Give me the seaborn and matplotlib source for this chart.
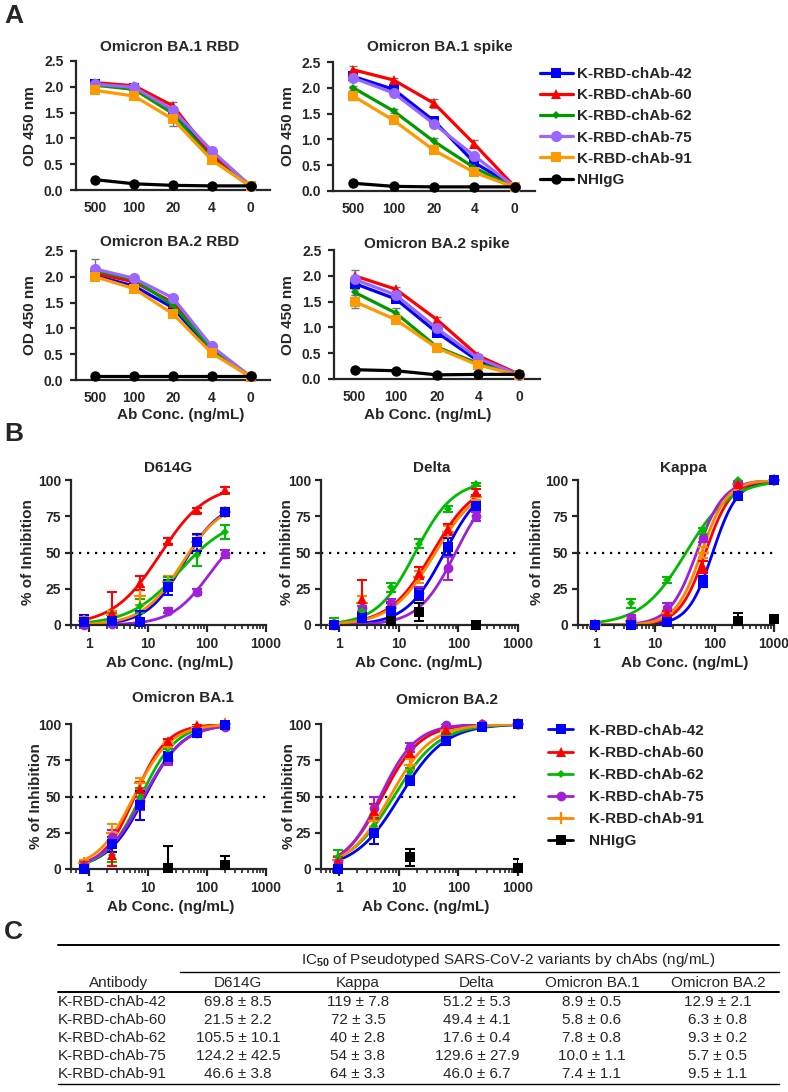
import numpy as np
import pandas as pd
import matplotlib
matplotlib.use('Agg')
import matplotlib.pyplot as plt
from matplotlib.lines import Line2D
from matplotlib.ticker import NullFormatter
import seaborn as sns

sns.set_style('ticks')
plt.rcParams['font.family'] = ['Liberation Sans', 'DejaVu Sans']
plt.rcParams['font.weight'] = 'bold'
plt.rcParams['mathtext.fontset'] = 'custom'
plt.rcParams['mathtext.rm'] = 'Liberation Sans'
plt.rcParams['mathtext.it'] = 'Liberation Sans:italic'
plt.rcParams['mathtext.bf'] = 'Liberation Sans:bold'

W, H = 788, 1092

# ---------------- data ----------------
ab_ids = ['42', '60', '62', '75', '91']
ab_names = ['K-RBD-chAb-' + i for i in ab_ids]
ctrl_name = 'NHIgG'

# A: ELISA (OD 450 nm), Ab conc. in ng/mL
elisa_conc = ['500', '100', '20', '4', '0']

od_ba1_rbd = {
    '42': [2.05, 1.97, 1.52, 0.65, 0.08],
    '60': [2.08, 2.02, 1.63, 0.68, 0.08],
    '62': [2.03, 1.95, 1.48, 0.60, 0.07],
    '75': [2.05, 1.99, 1.55, 0.76, 0.08],
    '91': [1.93, 1.82, 1.37, 0.58, 0.07],
    'NH': [0.20, 0.12, 0.09, 0.08, 0.08],
}
err_ba1_rbd = {
    '42': [0.03, 0.02, 0.03, 0.02, 0.01],
    '60': [0.04, 0.03, 0.07, 0.03, 0.01],
    '62': [0.02, 0.02, 0.03, 0.02, 0.01],
    '75': [0.02, 0.02, 0.03, 0.02, 0.01],
    '91': [0.03, 0.03, 0.12, 0.03, 0.01],
    'NH': [0.01, 0.01, 0.01, 0.01, 0.01],
}
od_ba1_spike = {
    '42': [2.22, 1.97, 1.36, 0.55, 0.08],
    '60': [2.35, 2.15, 1.70, 0.91, 0.08],
    '62': [2.00, 1.55, 0.96, 0.45, 0.07],
    '75': [2.19, 1.90, 1.30, 0.68, 0.08],
    '91': [1.84, 1.37, 0.79, 0.36, 0.07],
    'NH': [0.15, 0.09, 0.08, 0.08, 0.08],
}
err_ba1_spike = {
    '42': [0.05, 0.04, 0.05, 0.04, 0.01],
    '60': [0.07, 0.04, 0.09, 0.08, 0.01],
    '62': [0.04, 0.04, 0.06, 0.03, 0.01],
    '75': [0.05, 0.04, 0.04, 0.04, 0.01],
    '91': [0.08, 0.05, 0.04, 0.03, 0.01],
    'NH': [0.01, 0.01, 0.01, 0.01, 0.01],
}
od_ba2_rbd = {
    '42': [2.02, 1.82, 1.40, 0.55, 0.06],
    '60': [2.07, 1.90, 1.50, 0.60, 0.06],
    '62': [2.12, 1.95, 1.45, 0.60, 0.06],
    '75': [2.15, 1.97, 1.59, 0.65, 0.07],
    '91': [2.00, 1.77, 1.28, 0.52, 0.06],
    'NH': [0.07, 0.07, 0.07, 0.07, 0.07],
}
err_ba2_rbd = {
    '42': [0.04, 0.03, 0.03, 0.02, 0.01],
    '60': [0.04, 0.03, 0.03, 0.02, 0.01],
    '62': [0.04, 0.03, 0.03, 0.02, 0.01],
    '75': [0.20, 0.06, 0.04, 0.02, 0.01],
    '91': [0.05, 0.03, 0.04, 0.02, 0.01],
    'NH': [0.01, 0.01, 0.01, 0.01, 0.01],
}
od_ba2_spike = {
    '42': [1.85, 1.55, 0.90, 0.35, 0.08],
    '60': [2.00, 1.74, 1.15, 0.45, 0.09],
    '62': [1.68, 1.28, 0.62, 0.30, 0.07],
    '75': [1.93, 1.63, 0.98, 0.40, 0.08],
    '91': [1.50, 1.15, 0.60, 0.27, 0.07],
    'NH': [0.18, 0.16, 0.08, 0.09, 0.09],
}
err_ba2_spike = {
    '42': [0.05, 0.04, 0.04, 0.03, 0.01],
    '60': [0.12, 0.04, 0.06, 0.03, 0.01],
    '62': [0.06, 0.10, 0.03, 0.03, 0.01],
    '75': [0.06, 0.04, 0.04, 0.03, 0.01],
    '91': [0.12, 0.05, 0.03, 0.03, 0.01],
    'NH': [0.01, 0.01, 0.01, 0.01, 0.01],
}

# B: pseudovirus neutralization (% of inhibition)
conc_3fold = [0.82, 2.47, 7.41, 22.2, 66.7, 200]
conc_4fold = [0.98, 3.91, 15.6, 62.5, 250, 1000]

inh_d614g = {'42': [2, 3, 2, 26, 57, 78], '60': [3, 8, 29, 58, 79, 93],
             '62': [2, 5, 13, 30, 48, 64], '75': [0, 1, 3, 10, 23, 49],
             '91': [3, 7, 20, 30, 57, 78]}
sd_d614g = {'42': [5, 2, 8, 5, 6, 3], '60': [2, 15, 5, 2, 2, 2],
            '62': [2, 3, 5, 3, 7, 5], '75': [1, 1, 1, 2, 2, 3],
            '91': [3, 3, 6, 4, 5, 3]}
inh_delta = {'42': [0, 5, 10, 21, 54, 82], '60': [1, 18, 12, 36, 66, 92],
             '62': [2, 10, 26, 56, 80, 97], '75': [0, 12, 15, 22, 39, 75],
             '91': [1, 15, 12, 33, 64, 88]}
sd_delta = {'42': [2, 3, 5, 4, 6, 3], '60': [2, 13, 4, 4, 4, 2],
            '62': [3, 3, 3, 3, 2, 1], '75': [1, 3, 3, 4, 8, 3],
            '91': [2, 5, 4, 4, 4, 2]}
inh_kappa = {'42': [0, 0, 2, 30, 89, 100], '60': [0, 2, 8, 40, 97, 100],
             '62': [0, 15, 31, 65, 100, 99], '75': [0, 5, 12, 60, 98, 100],
             '91': [0, 3, 8, 50, 97, 100]}
sd_kappa = {'42': [1, 1, 1, 4, 2, 1], '60': [1, 1, 2, 4, 1, 1],
            '62': [1, 3, 2, 2, 1, 1], '75': [1, 2, 3, 3, 1, 1],
            '91': [1, 1, 2, 4, 1, 1]}
inh_ba1 = {'42': [0, 17, 44, 77, 94, 99], '60': [3, 10, 55, 88, 99, 100],
           '62': [3, 10, 50, 80, 96, 99], '75': [3, 22, 47, 75, 94, 98],
           '91': [4, 25, 59, 86, 97, 100]}
sd_ba1 = {'42': [3, 5, 10, 4, 2, 1], '60': [2, 8, 5, 2, 1, 1],
          '62': [2, 5, 6, 3, 1, 1], '75': [2, 5, 6, 3, 1, 1],
          '91': [2, 6, 4, 2, 1, 1]}
inh_ba2 = {'42': [0, 25, 61, 88, 98, 100], '60': [5, 40, 80, 96, 99, 100],
           '62': [8, 30, 67, 93, 98, 100], '75': [5, 42, 84, 99, 100, 100],
           '91': [6, 33, 72, 95, 99, 100]}
sd_ba2 = {'42': [2, 8, 3, 2, 1, 1], '60': [3, 5, 3, 1, 1, 1],
          '62': [5, 4, 3, 1, 1, 1], '75': [3, 8, 3, 1, 1, 1],
          '91': [3, 4, 4, 1, 1, 1]}

# NHIgG control points (conc, mean, sd)
ctrl_delta = ([7.41, 22.2, 200], [3, 9, 0], [3, 6, 1])
ctrl_kappa = ([250, 1000], [3, 4], [5, 2])
ctrl_ba1 = ([22.2, 200], [1, 3], [15, 6])
ctrl_ba2 = ([15.6, 1000], [8, 1], [6, 6])

# fitted dose-response curves: (IC50, Hill slope, top)
fit_d614g = {'42': (40, 1.4, 85), '60': (16, 1.1, 97), '62': (35, 1.02, 75),
             '75': (110, 1.35, 70), '91': (38, 1.3, 85)}
fit_delta = {'42': (59, 1.35, 100), '60': (37, 1.2, 100), '62': (19, 1.35, 100),
             '75': (90, 1.4, 100), '91': (40, 1.2, 98)}
fit_kappa = {'42': (93, 2.1, 100), '60': (70, 2.0, 100), '62': (33, 1.15, 100),
             '75': (50, 1.9, 100), '91': (60, 2.0, 100)}
fit_ba1 = {'42': (8.9, 1.35, 100), '60': (6.0, 1.6, 100), '62': (7.6, 1.45, 100),
           '75': (8.5, 1.3, 100), '91': (5.8, 1.4, 100)}
fit_ba2 = {'42': (10.5, 1.15, 100), '60': (5.3, 1.35, 100), '62': (8.3, 1.15, 100),
           '75': (4.9, 1.45, 100), '91': (7.2, 1.25, 100)}

# C: IC50 table
table_cols = ['D614G', 'Kappa', 'Delta', 'Omicron BA.1', 'Omicron BA.2']
ic50_d614g = ['69.8 ± 8.5', '21.5 ± 2.2', '105.5 ± 10.1', '124.2 ± 42.5', '46.6 ± 3.8']
ic50_kappa = ['119 ± 7.8', '72 ± 3.5', '40 ± 2.8', '54 ± 3.8', '64 ± 3.3']
ic50_delta = ['51.2 ± 5.3', '49.4 ± 4.1', '17.6 ± 0.4', '129.6 ± 27.9', '46.0 ± 6.7']
ic50_ba1 = ['8.9 ± 0.5', '5.8 ± 0.6', '7.8 ± 0.8', '10.0 ± 1.1', '7.4 ± 1.1']
ic50_ba2 = ['12.9 ± 2.1', '6.3 ± 0.8', '9.3 ± 0.2', '5.7 ± 0.5', '9.5 ± 1.1']

# ---------------- styles ----------------
a_colors = {'42': '#0000ff', '60': '#ff0000', '62': '#009a00', '75': '#9966ff',
            '91': '#ff9900', 'NH': '#000000'}
a_markers = {'42': 's', '60': '^', '62': 'D', '75': 'o', '91': 's', 'NH': 'o'}
a_ms = {'42': 6.5, '60': 7, '62': 4.5, '75': 8, '91': 6.5, 'NH': 7.5}

b_colors = {'42': '#0000ff', '60': '#ff0000', '62': '#00bb00', '75': '#a020d8',
            '91': '#ff8800', 'NH': '#000000'}
b_markers = {'42': 's', '60': '^', '62': 'D', '75': 'o', '91': '+', 'NH': 's'}
b_ms = {'42': 6.5, '60': 7, '62': 4.5, '75': 7, '91': 8, 'NH': 6.5}

fig = plt.figure(figsize=(W / 100, H / 100), dpi=100)


def box(l, t, r, b):
    return [l / W, 1 - b / H, (r - l) / W, (b - t) / H]


def ftext(x, y, s, **kw):
    kw.setdefault('ha', 'center')
    kw.setdefault('va', 'center')
    fig.text(x / W, 1 - y / H, s, **kw)


def hline(x0, x1, y, lw):
    fig.add_artist(Line2D([x0 / W, x1 / W], [1 - y / H, 1 - y / H],
                          transform=fig.transFigure, color='black', lw=lw))


def style_axes(ax):
    sns.despine(ax=ax)
    for sp in ['left', 'bottom']:
        ax.spines[sp].set_linewidth(1.6)
    ax.tick_params(width=1.6, length=4, labelsize=10)


def elisa_panel(rect, od, err):
    ax = fig.add_axes(box(*rect))
    pos = np.arange(len(elisa_conc))
    keys = ab_ids + ['NH']
    for k in keys:
        ax.errorbar(pos, od[k], yerr=err[k], fmt='none', ecolor='#777777',
                    elinewidth=1, capsize=3, capthick=1, zorder=1)
    for k in keys:
        sns.lineplot(x=pos, y=od[k], color=a_colors[k], marker=a_markers[k],
                     markersize=a_ms[k], markeredgewidth=0, linewidth=2.3,
                     ax=ax, legend=False, zorder=3)
    for ln in ax.lines:
        ln.set_clip_on(False)
    ax.set_xlim(-0.5, len(elisa_conc) - 0.5)
    ax.set_ylim(0, 2.5)
    ax.set_xticks(pos, elisa_conc)
    ax.set_yticks([0, 0.5, 1.0, 1.5, 2.0, 2.5])
    ax.yaxis.set_major_formatter('{x:.1f}')
    ax.set_xlabel('')
    ax.set_ylabel('')
    style_axes(ax)
    ax.tick_params(axis='x', length=0, pad=8)
    ax.tick_params(axis='y', pad=5)
    return ax


def neut_panel(rect, conc, inh, sd, fit, ctrl=None):
    ax = fig.add_axes(box(*rect))
    ax.set_xscale('log')
    ax.axhline(50, color='black', ls=(0, (1, 2.6)), lw=1.6, zorder=0)
    frames = []
    for k in ab_ids:
        ic50, hill, top = fit[k]
        xs = np.logspace(np.log10(conc[0]), np.log10(conc[-1]), 150)
        frames.append(pd.DataFrame({'conc': xs, 'inh': top / (1 + (ic50 / xs) ** hill), 'ab': k}))
    curves = pd.concat(frames, ignore_index=True)
    sns.lineplot(data=curves, x='conc', y='inh', hue='ab', palette=b_colors,
                 estimator=None, linewidth=2, legend=False, ax=ax, zorder=2)
    for k in ab_ids[::-1]:
        ax.errorbar(conc, inh[k], yerr=sd[k], fmt='none', ecolor=b_colors[k],
                    elinewidth=1.5, capsize=3.5, capthick=1.5, zorder=3)
        ax.plot(conc, inh[k], ls='none', marker=b_markers[k], ms=b_ms[k],
                color=b_colors[k], mew=1.6 if k == '91' else 0, clip_on=False, zorder=4)
    if ctrl is not None:
        cx, cy, ce = ctrl
        ax.errorbar(cx, cy, yerr=ce, fmt='none', ecolor='black', elinewidth=1.5,
                    capsize=3.5, capthick=1.5, zorder=3)
        ax.plot(cx, cy, ls='none', marker='s', ms=b_ms['NH'], color='black',
                mew=0, clip_on=False, zorder=4)
    ax.set_xlim(0.5, 1000)
    ax.set_ylim(0, 100)
    ax.set_xticks([1, 10, 100, 1000], ['1', '10', '100', '1000'])
    ax.xaxis.set_minor_formatter(NullFormatter())
    ax.set_yticks([0, 25, 50, 75, 100])
    ax.set_xlabel('')
    ax.set_ylabel('')
    style_axes(ax)
    ax.tick_params(axis='x', which='major', length=5, pad=4)
    ax.tick_params(axis='x', which='minor', length=3, width=1.2)
    ax.tick_params(axis='y', pad=3)
    return ax


# ---------------- panel A ----------------
ftext(4, 16, 'A', ha='left', size=19)
elisa_panel((76, 61, 270, 190), od_ba1_rbd, err_ba1_rbd)
elisa_panel((333, 62, 535, 191), od_ba1_spike, err_ba1_spike)
elisa_panel((76, 251, 270, 380), od_ba2_rbd, err_ba2_rbd)
elisa_panel((334, 250, 540, 379), od_ba2_spike, err_ba2_spike)

ftext(170, 47, 'Omicron BA.1 RBD', size=11)
ftext(440, 47, 'Omicron BA.1 spike', size=11)
ftext(170, 242, 'Omicron BA.2 RBD', size=11)
ftext(437, 244, 'Omicron BA.2 spike', size=11)
for x, y in [(30, 126), (288, 126), (30, 315), (288, 315)]:
    ftext(x, y, 'OD 450 nm', rotation=90, size=11)
ftext(181, 415, 'Ab Conc. (ng/mL)', size=11)
ftext(428, 415, 'Ab Conc. (ng/mL)', size=11)

a_handles = [Line2D([], [], color=a_colors[k], marker=a_markers[k], ms=a_ms[k],
                    mew=0, lw=2.3) for k in ab_ids + ['NH']]
fig.legend(a_handles, ab_names + [ctrl_name], loc='center left',
           bbox_to_anchor=(540 / W, 1 - 127 / H), frameon=False, borderpad=0,
           borderaxespad=0, handlelength=2.15, handletextpad=0.3,
           labelspacing=0.47, prop={'size': 11, 'weight': 'bold'})

# ---------------- panel B ----------------
ftext(4, 434, 'B', ha='left', size=19)
neut_panel((71, 480, 266, 625), conc_3fold, inh_d614g, sd_d614g, fit_d614g)
neut_panel((321, 480, 518, 625), conc_3fold, inh_delta, sd_delta, fit_delta, ctrl_delta)
neut_panel((578, 480, 774, 625), conc_4fold, inh_kappa, sd_kappa, fit_kappa, ctrl_kappa)
neut_panel((71, 724, 266, 869), conc_3fold, inh_ba1, sd_ba1, fit_ba1, ctrl_ba1)
neut_panel((321, 724, 518, 869), conc_4fold, inh_ba2, sd_ba2, fit_ba2, ctrl_ba2)

ftext(168, 468, 'D614G', size=11)
ftext(432, 468, 'Delta', size=11)
ftext(683, 468, 'Kappa', size=11)
ftext(183, 698, 'Omicron BA.1', size=11)
ftext(447, 700, 'Omicron BA.2', size=11)
for x, y in [(28, 552), (287, 552), (537, 552), (36, 796), (289, 796)]:
    ftext(x, y, '% of Inhibition', rotation=90, size=11)
for x, y in [(170, 663), (419, 663), (685, 663), (171, 907), (426, 907)]:
    ftext(x, y, 'Ab Conc. (ng/mL)', size=11)

b_handles = [Line2D([], [], color=b_colors[k], marker=b_markers[k], ms=b_ms[k],
                    mew=1.6 if k == '91' else 0, lw=2) for k in ab_ids + ['NH']]
fig.legend(b_handles, ab_names + [ctrl_name], loc='center left',
           bbox_to_anchor=(548 / W, 1 - 786 / H), frameon=False, borderpad=0,
           borderaxespad=0, handlelength=1.65, handletextpad=1.05,
           labelspacing=0.53, prop={'size': 11, 'weight': 'bold'})

# ---------------- panel C ----------------
ftext(4, 932, 'C', ha='left', size=19)
hline(58, 779, 945, 1.4)
ftext(508, 960, r'IC$_{50}$ of Pseudotyped SARS-CoV-2 variants by chAbs (ng/mL)',
      size=11, weight='normal')
hline(180, 779, 972, 1.0)
col_x = [238, 358, 477, 592, 718]
ftext(119, 983, 'Antibody', size=11, weight='normal')
for x, name in zip(col_x, table_cols):
    ftext(x, 983, name, size=11, weight='normal')
hline(58, 779, 992, 1.4)
table_values = [ic50_d614g, ic50_kappa, ic50_delta, ic50_ba1, ic50_ba2]
for i, name in enumerate(ab_names):
    y = 1002 + 18 * i
    ftext(58, y, name, ha='left', size=11, weight='normal')
    for x, col in zip(col_x, table_values):
        ftext(x, y, col[i], size=11, weight='normal')
hline(58, 779, 1084, 1.0)

fig.savefig('out.png', dpi=100, facecolor='white')
